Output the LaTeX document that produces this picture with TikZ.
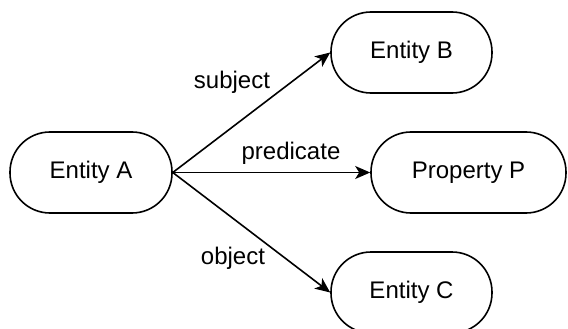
\documentclass[tikz,border=0pt]{standalone}
\usepackage{fontspec}
\setmainfont{Liberation Sans}
\usetikzlibrary{arrows.meta}
\begin{document}
\begin{tikzpicture}[x=1pt,y=-1pt,
  pill/.style={draw=black,line width=1.6pt,rounded corners=40pt,minimum height=81pt,inner sep=0pt,font=\fontsize{24}{28}\selectfont,text=black},
  lbl/.style={font=\fontsize{24}{28}\selectfont,text=black,inner sep=0pt},
  conn/.style={draw=black,line width=1.6pt,-{Stealth[length=15pt,width=13pt,inset=4pt]}}]
\useasboundingbox (0,0) rectangle (568,329);
\node[pill,minimum width=162pt] (A) at (91,172.5) {Entity A};
\node[pill,minimum width=161pt] (B) at (411.5,52.5) {Entity B};
\node[pill,minimum width=195pt] (P) at (468.5,172.5) {Property P};
\node[pill,minimum width=161pt] (C) at (411.5,292.5) {Entity C};
\node[lbl] (ls) at (232,82) {subject};
\node[lbl] (lp) at (291,153) {predicate};
\node[lbl] (lo) at (233,258) {object};
\draw[conn] (A.east) -- (B.west);
\draw[conn] (A.east) -- (P.west);
\draw[conn] (A.east) -- (C.west);
\end{tikzpicture}
\end{document}
